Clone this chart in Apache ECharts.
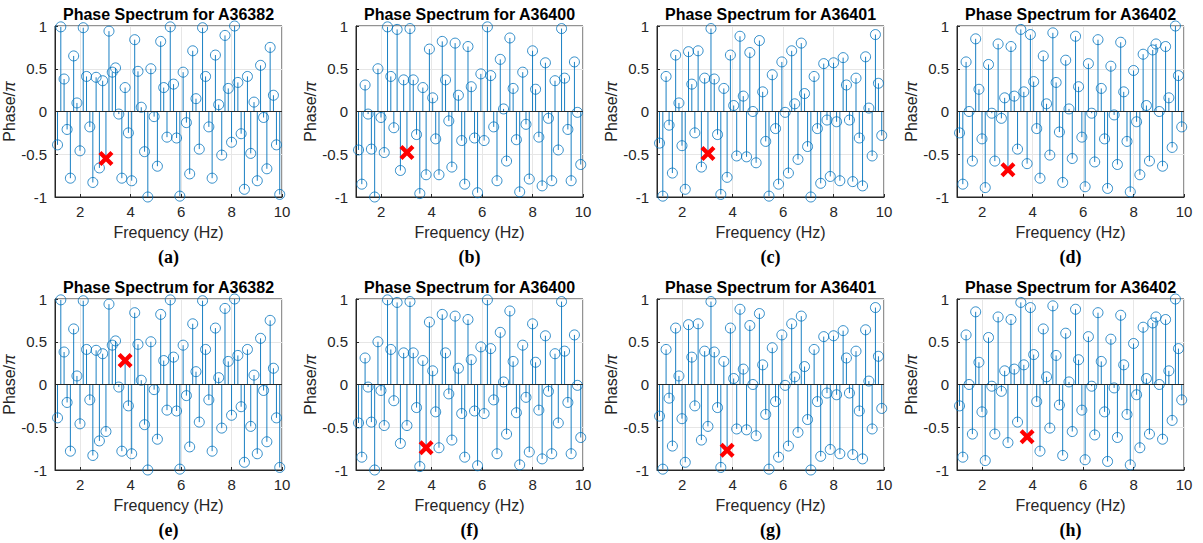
<!DOCTYPE html>
<html>
<head>
<meta charset="utf-8">
<script src="https://cdn.jsdelivr.net/npm/echarts@6/dist/echarts.min.js"></script>
<style>
html,body{margin:0;padding:0;background:#fff;}
#chart{width:1203px;height:543px;}
</style>
</head>
<body>
<div id="chart"></div>
<script>
// ---------------- data ----------------
const freqs = [1.10,1.23,1.36,1.48,1.61,1.74,1.87,1.99,2.12,2.25,2.38,2.50,2.63,2.76,2.89,3.02,3.14,3.27,3.40,3.53,3.65,3.78,3.91,4.04,4.16,4.29,4.42,4.55,4.68,4.80,4.93,5.06,5.19,5.31,5.44,5.57,5.70,5.82,5.95,6.08,6.21,6.34,6.46,6.59,6.72,6.85,6.97,7.10,7.23,7.36,7.49,7.61,7.74,7.87,8.00,8.12,8.25,8.38,8.51,8.63,8.76,8.89,9.02,9.15,9.27,9.40,9.53,9.66,9.78,9.91];

const phaseA36382 = [-0.39,0.99,0.38,-0.21,-0.78,0.65,0.10,-0.46,0.98,0.41,-0.18,-0.83,0.40,-0.66,0.36,-0.55,0.94,0.46,0.51,-0.03,-0.78,0.28,-0.25,-0.81,0.84,0.47,0.05,-0.47,-1.00,0.50,-0.06,-0.64,0.82,0.28,-0.30,0.99,0.32,-0.31,-0.99,0.46,-0.13,-0.73,0.71,0.15,-0.44,0.98,0.41,-0.18,-0.78,0.66,0.08,-0.51,0.89,0.27,-0.36,1.00,0.34,-0.26,-0.91,0.41,-0.49,0.11,-0.81,0.54,-0.07,-0.67,0.75,0.19,-0.39,-0.97];

const phaseA36400 = [-0.45,-0.85,0.31,-0.03,-0.44,-1.00,0.50,-0.07,-0.48,0.99,0.41,-0.19,0.96,-0.69,0.37,-0.48,0.97,0.37,-0.27,-0.96,0.28,-0.74,0.73,0.16,-0.32,-0.74,0.82,0.37,-0.11,-0.65,0.80,0.19,-0.34,-0.85,0.76,0.29,-0.31,-0.95,0.44,-0.34,0.99,0.42,-0.18,-0.81,0.61,0.03,-0.58,0.86,0.27,-0.33,-0.94,0.46,-0.15,-0.79,0.71,0.26,-0.30,-0.87,0.57,-0.08,-0.81,0.36,-0.45,0.97,0.39,-0.21,-0.81,0.58,-0.01,-0.62];

const phaseA36401 = [-0.37,-0.99,0.41,-0.16,-0.72,0.66,0.10,-0.40,-0.91,0.70,0.32,-0.25,0.71,-0.65,0.39,-0.49,0.97,0.38,-0.27,-0.97,0.27,-0.77,0.66,0.07,-0.52,0.88,0.18,-0.53,0.69,0.00,-0.60,0.83,0.23,-0.35,-0.99,0.43,-0.20,-0.85,0.58,-0.01,-0.72,0.71,0.09,-0.56,0.80,0.21,-0.41,-1.00,0.41,-0.20,-0.84,0.56,-0.10,-0.76,0.57,-0.12,-0.81,0.63,0.31,-0.10,-0.82,0.39,-0.31,-0.87,0.64,0.04,-0.52,0.90,0.33,-0.28];

const phaseA36402 = [-0.25,-0.85,0.58,0.00,-0.58,0.85,0.26,-0.32,-0.89,0.55,-0.02,-0.58,0.79,-0.08,0.16,-0.68,0.76,0.18,-0.44,0.96,0.23,-0.61,0.90,0.35,-0.20,-0.78,0.65,0.09,-0.51,0.92,0.34,-0.24,-0.83,0.60,0.03,-0.55,0.88,0.29,-0.30,-0.88,0.56,-0.02,-0.59,0.84,0.27,-0.32,-0.90,0.53,-0.04,-0.62,0.81,0.23,-0.35,-0.94,0.48,-0.12,-0.74,0.67,0.07,-0.58,0.72,0.79,0.00,-0.64,0.76,0.16,-0.42,1.00,0.42,-0.18];

const sensors = ['A36382','A36400','A36401','A36402'];
const sensorPhases = [phaseA36382, phaseA36400, phaseA36401, phaseA36402];
const panelLabels = [['(a)','(b)','(c)','(d)'],['(e)','(f)','(g)','(h)']];
const markedIndexPerRow = [15, 21];   // highlighted bins: ~3.0 Hz (top row), ~3.78 Hz (bottom row)
const xTickLabels = ['2','4','6','8','10'];

// ---------------- layout ----------------
const colLeft = [55, 356, 657, 957];
const gridW = 227;
const rowTop = [26, 299];
const gridH = 171;
const stemColor = '#0072BD';
const textColor = '#262626';
const sans = 'Liberation Sans, Arial, sans-serif';

const grids = [], xAxes = [], yAxes = [], series = [], graphics = [];

let g = 0;
for (let r = 0; r < 2; r++) {
  for (let c = 0; c < 4; c++) {
    const vals = sensorPhases[c];
    const pts = freqs.map((f, i) => [f, vals[i]]);
    const mi = markedIndexPerRow[r];
    const circlePts = pts.map((p, i) => i === mi ? {value: p, itemStyle: {opacity: 0}} : p);
    grids.push({left: colLeft[c], top: rowTop[r], width: gridW, height: gridH,
      show: true, borderColor: '#262626', borderWidth: 1, backgroundColor: '#fff'});
    xAxes.push({
      type: 'value', gridIndex: g, min: 1, max: 10, splitNumber: 5,
      axisLine: {show: true, onZero: false, lineStyle: {color: '#262626', width: 1}},
      axisTick: {show: true, inside: true, length: 3, lineStyle: {color: '#262626'}},
      axisLabel: {color: textColor, fontFamily: sans, fontSize: 15, margin: 7,
        showMinLabel: false,
        formatter: v => xTickLabels.includes(String(v)) ? String(v) : ''},
      splitLine: {show: true, lineStyle: {color: '#e6e6e6', width: 1}},
      name: 'Frequency (Hz)', nameLocation: 'middle', nameGap: 27,
      nameTextStyle: {color: textColor, fontFamily: sans, fontSize: 16}
    });
    yAxes.push({
      type: 'value', gridIndex: g, min: -1, max: 1, interval: 0.5,
      axisLine: {show: true, lineStyle: {color: '#262626', width: 1}},
      axisTick: {show: true, inside: true, length: 3, lineStyle: {color: '#262626'}},
      axisLabel: {color: textColor, fontFamily: sans, fontSize: 15, margin: 8},
      splitLine: {show: true, lineStyle: {color: '#e6e6e6', width: 1}},
      name: 'Phase/{i|π}', nameLocation: 'middle', nameGap: 32,
      nameTextStyle: {color: textColor, fontFamily: sans, fontSize: 16,
        rich: {i: {fontStyle: 'italic', fontFamily: sans, fontSize: 16, color: textColor}}}
    });
    // stems
    series.push({
      type: 'custom', xAxisIndex: g, yAxisIndex: g, data: pts, z: 2, silent: true,
      renderItem: (params, api) => {
        const x = api.value(0), y = api.value(1);
        const p0 = api.coord([x, 0]), p1 = api.coord([x, y]);
        return {type: 'line', shape: {x1: p0[0], y1: p0[1], x2: p1[0], y2: p1[1]},
          style: {stroke: stemColor, lineWidth: 1, opacity: 0.9}};
      },
      markLine: {silent: true, symbol: 'none', label: {show: false},
        lineStyle: {color: '#262626', width: 1, type: 'solid'},
        data: [{yAxis: 0}], animation: false}
    });
    // circle markers
    series.push({
      type: 'scatter', xAxisIndex: g, yAxisIndex: g, data: circlePts, z: 3, silent: true,
      symbol: 'circle', symbolSize: 10, clip: false,
      itemStyle: {color: 'rgba(255,255,255,0)', borderColor: stemColor, borderWidth: 1}
    });
    // highlighted bin (red cross)
    series.push({
      type: 'scatter', xAxisIndex: g, yAxisIndex: g, data: [pts[mi]], z: 4, silent: true,
      symbol: 'path://M0,4 L4,0 L10,6 L16,0 L20,4 L14,10 L20,16 L16,20 L10,14 L4,20 L0,16 L6,10 Z',
      symbolSize: 15, clip: false,
      itemStyle: {color: '#ff0000', opacity: 1}
    });
    const cx = colLeft[c] + gridW / 2;
    graphics.push({type: 'text', x: cx, y: rowTop[r] - 12, silent: true,
      style: {text: 'Phase Spectrum for ' + sensors[c], align: 'center', verticalAlign: 'middle',
        fill: '#000', font: 'bold 16px ' + sans}});
    graphics.push({type: 'text', x: cx, y: rowTop[r] + gridH + 60, silent: true,
      style: {text: panelLabels[r][c], align: 'center', verticalAlign: 'middle',
        fill: '#000', font: 'bold 18px "Liberation Serif", "Times New Roman", serif'}});
    g++;
  }
}

const chart = echarts.init(document.getElementById('chart'), null, {renderer: 'svg'});
chart.setOption({
  animation: false,
  backgroundColor: '#fff',
  grid: grids, xAxis: xAxes, yAxis: yAxes, series: series,
  graphic: graphics
});
</script>
</body>
</html>
